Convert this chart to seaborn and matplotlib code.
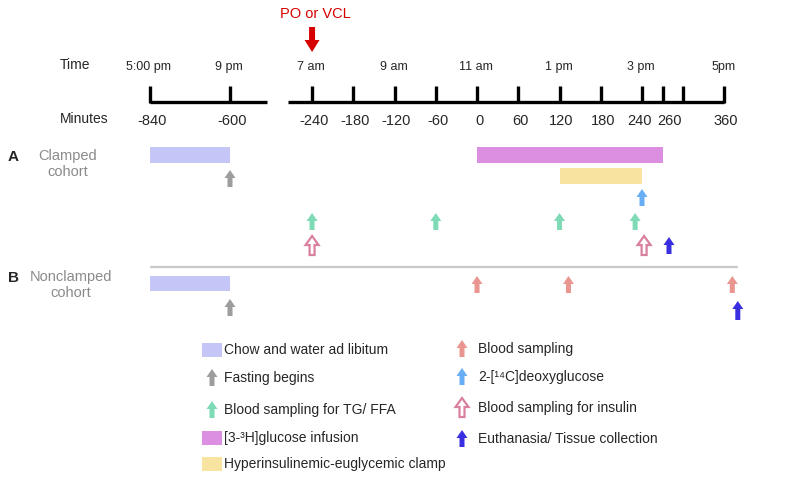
import numpy as np
import matplotlib
matplotlib.use("Agg")
import matplotlib.pyplot as plt
import seaborn as sns
from matplotlib.patches import FancyArrow, Rectangle

sns.set_theme(style="white")
plt.rcParams["font.family"] = ["Liberation Sans", "DejaVu Sans"]

# ================================
# DATA
# ================================
time_labels = ["5:00 pm", "9 pm", "7 am", "9 am", "11 am", "1 pm", "3 pm", "5pm"]
time_minutes = [-840, -600, -240, -120, 0, 120, 240, 360]

tick_minutes = [-840, -600, -240, -180, -120, -60, 0, 60, 120, 180, 240, 260, 300, 360]
tick_labels = ["-840", "-600", "-240", "-180", "-120", "-60", "0", "60",
               "120", "180", "240", "260", "", "360"]

# clamped cohort
a_chow = (-840, -600)
a_infusion = (0, 260)
a_clamp = (120, 240)
a_fasting = [-600]
a_deoxy = [240]
a_tg_ffa = [-240, -60, 120, 230]
a_insulin = [-240, 242]
a_euth = [272]

# nonclamped cohort
b_chow = (-840, -600)
b_fasting = [-600]
b_blood = [0, 133, 372]
b_euth = [380]

# colours
C_CHOW = "#c3c6f6"
C_FAST = "#9d9d9d"
C_TG = "#7fdbb6"
C_INF = "#dc8ee0"
C_CLAMP = "#f8e4a0"
C_BLOOD = "#e8968f"
C_DEOXY = "#68aef6"
C_INS = "#d9809e"
C_EUTH = "#3a2fe0"
C_RED = "#d50000"

# ================================
# BROKEN TIME SCALE (minutes -> pixel x)
# ================================
KNOT_MIN = [-840, -480, -275, 240, 260, 300, 400]
KNOT_PX = [150, 270, 288, 642, 663, 683, 751.5]


def xpos(m):
    return np.interp(m, KNOT_MIN, KNOT_PX)


fig = plt.figure(figsize=(7.87, 4.94), dpi=100)
ax = fig.add_axes([0, 0, 1, 1])
ax.set_xlim(0, 787)
ax.set_ylim(494, 0)
ax.axis("off")


def up_arrow(x, y_top, color, h=17, hollow=False):
    if hollow:
        a = FancyArrow(x, y_top + h, 0, -h, width=5, head_width=13, head_length=9,
                       length_includes_head=True, facecolor="white",
                       edgecolor=color, linewidth=1.6)
    else:
        a = FancyArrow(x, y_top + h, 0, -h, width=5, head_width=11, head_length=8,
                       length_includes_head=True, facecolor=color,
                       edgecolor="none")
    ax.add_patch(a)


def bar(span, y_top, h, color):
    x0, x1 = xpos(span[0]), xpos(span[1])
    ax.add_patch(Rectangle((x0, y_top), x1 - x0, h, facecolor=color, edgecolor="none"))


# ================================
# TIME AXIS
# ================================
AXIS_Y = 102
ax.plot([xpos(-840), xpos(-490)], [AXIS_Y, AXIS_Y], color="black", lw=2.4,
        solid_capstyle="butt")
ax.plot([xpos(-275), xpos(360)], [AXIS_Y, AXIS_Y], color="black", lw=2.4,
        solid_capstyle="butt")
for m, lab in zip(tick_minutes, tick_labels):
    x = xpos(m)
    ax.plot([x, x], [86, AXIS_Y + 0.8], color="black", lw=2.4, solid_capstyle="butt")
    if lab:
        # labels 240 / 260 sit close together, nudge them apart
        dx = {"240": -2, "260": 7}.get(lab, 2)
        ax.text(x + dx, 121, lab, ha="center", va="center", fontsize=10.5)

for m, lab in zip(time_minutes, time_labels):
    ax.text(xpos(m) - 1, 67, lab, ha="center", va="center", fontsize=9)

ax.text(60, 65, "Time", ha="left", va="center", fontsize=10)
ax.text(60, 119, "Minutes", ha="left", va="center", fontsize=10)

# PO or VCL marker
ax.text(xpos(-240) + 3, 14, "PO or VCL", ha="center", va="center", fontsize=10.5,
        color=C_RED)
ax.add_patch(FancyArrow(xpos(-240), 27, 0, 25, width=6, head_width=15, head_length=12,
                        length_includes_head=True, facecolor=C_RED, edgecolor="none"))

# ================================
# ROW A: CLAMPED
# ================================
ax.text(8, 157, "A", ha="left", va="center", fontsize=11, fontweight="bold")
ax.text(68, 164, "Clamped\ncohort", ha="center", va="center", fontsize=10.5,
        color="#8a8a8a", linespacing=1.1)

bar(a_chow, 147, 16, C_CHOW)
bar(a_infusion, 147, 16, C_INF)
bar(a_clamp, 168, 16, C_CLAMP)
for m in a_fasting:
    up_arrow(xpos(m), 170, C_FAST)
for m in a_deoxy:
    up_arrow(xpos(m), 189, C_DEOXY)
for m in a_tg_ffa:
    up_arrow(xpos(m), 213, C_TG)
for m in a_insulin:
    up_arrow(xpos(m), 236, C_INS, h=19, hollow=True)
for m in a_euth:
    up_arrow(xpos(m), 237, C_EUTH)

# separator
ax.plot([151, 737], [267, 267], color="#c8c8c8", lw=1.6)

# ================================
# ROW B: NONCLAMPED
# ================================
ax.text(8, 278, "B", ha="left", va="center", fontsize=11, fontweight="bold")
ax.text(71, 285, "Nonclamped\ncohort", ha="center", va="center", fontsize=10.5,
        color="#8a8a8a", linespacing=1.1)

bar(b_chow, 276, 15, C_CHOW)
for m in b_fasting:
    up_arrow(xpos(m), 299, C_FAST)
for m in b_blood:
    up_arrow(xpos(m), 276, C_BLOOD)
for m in b_euth:
    up_arrow(xpos(m), 301, C_EUTH, h=19)

# ================================
# LEGEND
# ================================
left_items = [
    ("rect", C_CHOW, "Chow and water ad libitum", 350),
    ("arrow", C_FAST, "Fasting begins", 378),
    ("arrow", C_TG, "Blood sampling for TG/ FFA", 410),
    ("rect", C_INF, "[3-\u00b3H]glucose infusion", 438),
    ("rect", C_CLAMP, "Hyperinsulinemic-euglycemic clamp", 464),
]
right_items = [
    ("arrow", C_BLOOD, "Blood sampling", 349),
    ("arrow", C_DEOXY, "2-[\u00b9\u2074C]deoxyglucose", 377),
    ("hollow", C_INS, "Blood sampling for insulin", 408),
    ("arrow", C_EUTH, "Euthanasia/ Tissue collection", 439),
]
for items, mx, tx in [(left_items, 212, 224), (right_items, 462, 478)]:
    for kind, col, lab, y in items:
        if kind == "rect":
            ax.add_patch(Rectangle((mx - 10, y - 7), 20, 14, facecolor=col,
                                   edgecolor="none"))
        elif kind == "hollow":
            up_arrow(mx, y - 10, col, h=19, hollow=True)
        else:
            up_arrow(mx, y - 9, col)
        ax.text(tx, y, lab, ha="left", va="center", fontsize=10)

fig.savefig("out.png", dpi=100)
